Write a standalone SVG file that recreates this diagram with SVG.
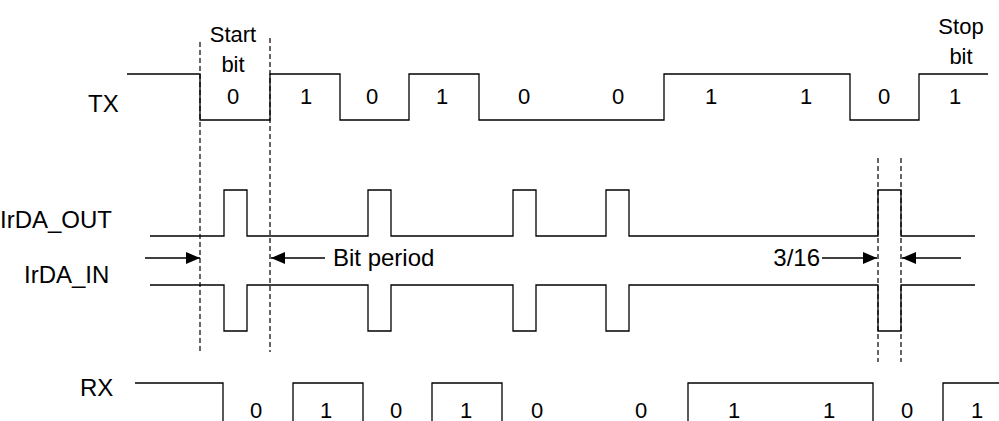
<svg xmlns="http://www.w3.org/2000/svg" width="999" height="421" viewBox="0 0 999 421">
<style>
.w{fill:none;stroke:#000;stroke-width:1.3}
.d{fill:none;stroke:#000;stroke-width:1.2;stroke-dasharray:5,3}
text{font-family:"Liberation Sans",Arial,sans-serif;font-size:22px;fill:#000}
.c{text-anchor:middle}
.l{font-size:24px}
</style>
<defs><marker id="a" markerWidth="14" markerHeight="12" refX="14" refY="6" orient="auto" markerUnits="userSpaceOnUse"><path d="M0,0 L14,6 L0,12 z"/></marker></defs>
<rect width="999" height="421" fill="#fff"/>
<g id="labels">
<text x="88" y="112" class="l">TX</text>
<text x="0" y="228" class="l">IrDA_OUT</text>
<text x="24" y="283" class="l">IrDA_IN</text>
<text x="80" y="396" class="l">RX</text>
</g>
<g id="tx">
<path class="w" d="M127,74 H200 V120 H270 V74 H340 V120 H409 V74 H479 V120 H664 V74 H850 V120 H919 V74 H988"/>
<text x="233" y="42" class="c">Start</text><text x="233" y="72" class="c">bit</text>
<text x="961" y="34" class="c">Stop</text><text x="961" y="64" class="c">bit</text>
<text x="233" y="104" class="c">0</text><text x="306" y="104" class="c">1</text><text x="372" y="104" class="c">0</text><text x="442" y="104" class="c">1</text><text x="524" y="104" class="c">0</text><text x="618" y="104" class="c">0</text><text x="711" y="104" class="c">1</text><text x="806" y="104" class="c">1</text><text x="884" y="104" class="c">0</text><text x="955" y="104" class="c">1</text>
</g>
<g id="irda_out">
<path class="w" d="M150,236 H224 V190 H247 V236 H368 V190 H391 V236 H513 V190 H536 V236 H606 V190 H629 V236 H878 V190 H901 V236 H975"/>
</g>
<g id="irda_in">
<path class="w" d="M150,285 H224 V331 H247 V285 H368 V331 H391 V285 H513 V331 H536 V285 H606 V331 H629 V285 H878 V331 H901 V285 H975"/>
</g>
<g id="rx">
<path class="w" d="M135,383 H223 V421 M293,421 V383 H363 V421 M432,421 V383 H502 V421 M688,421 V383 H873 V421 M943,421 V383 H999"/>
<text x="256" y="418" class="c">0</text><text x="326" y="418" class="c">1</text><text x="396" y="418" class="c">0</text><text x="466" y="418" class="c">1</text><text x="537" y="418" class="c">0</text><text x="641" y="418" class="c">0</text><text x="734" y="418" class="c">1</text><text x="829" y="418" class="c">1</text><text x="907" y="418" class="c">0</text><text x="977" y="418" class="c">1</text>
</g>
<g id="connectors">
<path class="d" d="M200,42 V352 M270,38 V352 M878,158 V362 M901,158 V362"/>
<path class="w" marker-end="url(#a)" d="M145,258 H200"/>
<path class="w" marker-end="url(#a)" d="M325,258 H271"/>
<path class="w" marker-end="url(#a)" d="M822,258 H877"/>
<path class="w" marker-end="url(#a)" d="M961,258 H902"/>
<text x="333" y="266" class="l">Bit period</text>
<text x="820" y="266" class="l" text-anchor="end">3/16</text>
</g>
</svg>
